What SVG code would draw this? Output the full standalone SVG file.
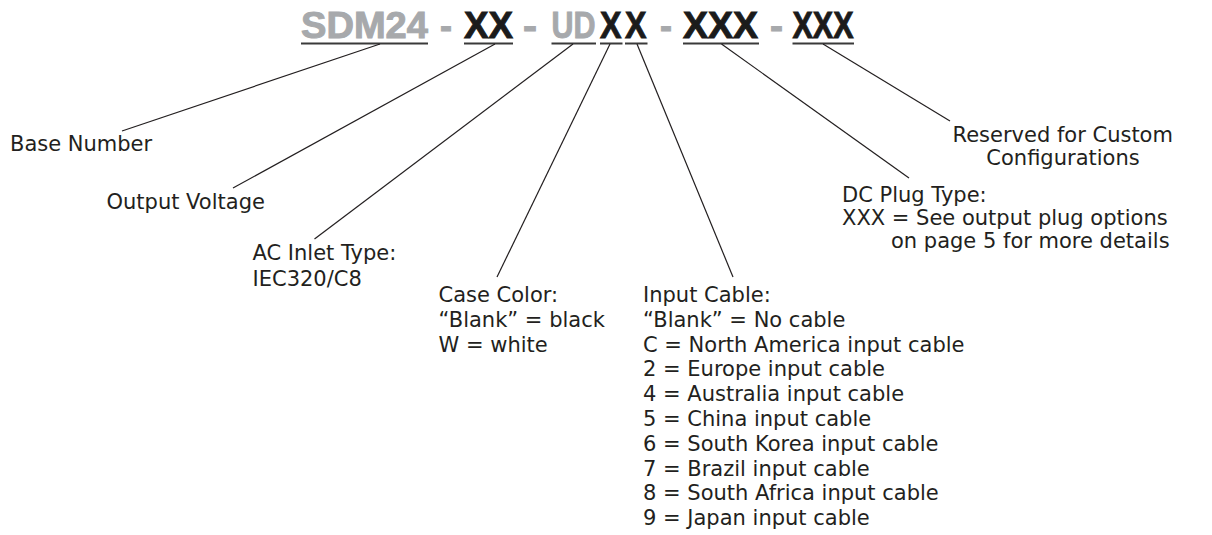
<svg xmlns="http://www.w3.org/2000/svg" width="1212" height="535" viewBox="0 0 1212 535">
<style>
.hd{font-family:"Liberation Sans",Arial,sans-serif;font-weight:700;font-size:30px}
.g{fill:#a7a9ac;stroke:#a7a9ac;stroke-width:0.8}
.k{fill:#1b1b1b;stroke:#1b1b1b;stroke-width:0.8}
.ul{fill:#3a3a3a}
.lb{font-family:"DejaVu Sans",Verdana,sans-serif;font-size:21px;fill:#231f20}
.ld{stroke:#231f20;stroke-width:1.2;fill:none}
</style>
<rect width="1212" height="535" fill="#ffffff"/>
<g id="header">
<g transform="translate(0,38) scale(1,1.2) translate(0,-38)">
<g id="seg-base"><text class="hd g" x="301" y="38" textLength="127" lengthAdjust="spacingAndGlyphs">SDM24</text></g>
<text class="hd g" x="440" y="38" textLength="12" lengthAdjust="spacingAndGlyphs">-</text>
<g id="seg-volt"><text class="hd k" x="464" y="38" textLength="49" lengthAdjust="spacingAndGlyphs">XX</text></g>
<text class="hd g" x="523" y="38" textLength="14" lengthAdjust="spacingAndGlyphs">-</text>
<g id="seg-ud"><text class="hd g" x="551.5" y="38" textLength="44" lengthAdjust="spacingAndGlyphs">UD</text></g>
<g id="seg-color"><text class="hd k" x="600" y="38" textLength="21.5" lengthAdjust="spacingAndGlyphs">X</text></g>
<g id="seg-cable"><text class="hd k" x="625" y="38" textLength="21.5" lengthAdjust="spacingAndGlyphs">X</text></g>
<text class="hd g" x="660" y="38" textLength="12" lengthAdjust="spacingAndGlyphs">-</text>
<g id="seg-plug"><text class="hd k" x="683" y="38" textLength="75" lengthAdjust="spacingAndGlyphs">XXX</text></g>
<text class="hd g" x="770" y="38" textLength="13" lengthAdjust="spacingAndGlyphs">-</text>
<g id="seg-custom"><text class="hd k" x="792.5" y="38" textLength="61" lengthAdjust="spacingAndGlyphs">XXX</text></g>
</g>
<g id="underlines">
<rect class="ul" x="301" y="42.5" width="127" height="2"/>
<rect class="ul" x="464" y="42.5" width="49" height="2"/>
<rect class="ul" x="551.5" y="42.5" width="44.5" height="2"/>
<rect class="ul" x="600" y="42.5" width="22.5" height="2"/>
<rect class="ul" x="625" y="42.5" width="22.5" height="2"/>
<rect class="ul" x="683" y="42.5" width="76" height="2"/>
<rect class="ul" x="792.5" y="42.5" width="61.5" height="2"/>
</g>
</g>
<g id="connectors">
<line class="ld" x1="380" y1="44" x2="122" y2="131"/>
<line class="ld" x1="495" y1="44" x2="233" y2="188"/>
<line class="ld" x1="573" y1="44" x2="314.5" y2="239"/>
<line class="ld" x1="610" y1="44" x2="497" y2="277"/>
<line class="ld" x1="637" y1="44" x2="733" y2="277"/>
<line class="ld" x1="721.5" y1="44" x2="909" y2="178"/>
<line class="ld" x1="823" y1="44" x2="950" y2="121"/>
</g>
<g id="base-number"><text class="lb" x="10" y="151">Base Number</text></g>
<g id="output-voltage"><text class="lb" x="106.5" y="209">Output Voltage</text></g>
<g id="ac-inlet"><text class="lb" x="252.5" y="260">AC Inlet Type:</text><text class="lb" x="252.5" y="285.5">IEC320/C8</text></g>
<g id="case-color"><text class="lb" x="438.5" y="302">Case Color:</text><text class="lb" x="438.5" y="326.8">“Blank” = black</text><text class="lb" x="438.5" y="351.6">W = white</text></g>
<g id="input-cable">
<text class="lb" x="643" y="302">Input Cable:</text>
<text class="lb" x="643" y="326.8">“Blank” = No cable</text>
<text class="lb" x="643" y="351.6">C = North America input cable</text>
<text class="lb" x="643" y="376.4">2 = Europe input cable</text>
<text class="lb" x="643" y="401.2">4 = Australia input cable</text>
<text class="lb" x="643" y="426">5 = China input cable</text>
<text class="lb" x="643" y="450.8">6 = South Korea input cable</text>
<text class="lb" x="643" y="475.6">7 = Brazil input cable</text>
<text class="lb" x="643" y="500.4">8 = South Africa input cable</text>
<text class="lb" x="643" y="525.2">9 = Japan input cable</text>
</g>
<g id="dc-plug"><text class="lb" x="842" y="202">DC Plug Type:</text><text class="lb" x="842" y="225">XXX = See output plug options</text><text class="lb" x="891" y="248">on page 5 for more details</text></g>
<g id="reserved"><text class="lb" x="952.5" y="142">Reserved for Custom</text><text class="lb" x="1063" y="165" text-anchor="middle">Configurations</text></g>
</svg>
